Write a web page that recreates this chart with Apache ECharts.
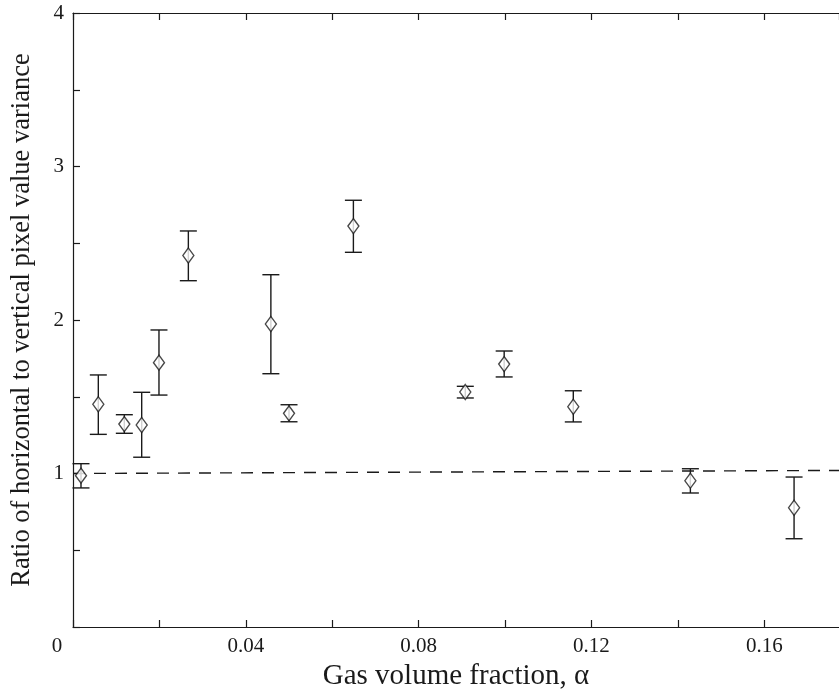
<!DOCTYPE html>
<html>
<head>
<meta charset="utf-8">
<script src="https://cdn.jsdelivr.net/npm/echarts@6/dist/echarts.min.js"></script>
<style>
  html, body { margin: 0; padding: 0; background: #fff; }
  #chart { width: 839px; height: 696px; }
</style>
</head>
<body>
<div id="chart"></div>
<script>
// Gas volume fraction of each measurement
const alpha = [0.00185, 0.00586, 0.01188, 0.0159, 0.0199, 0.0267, 0.0458,
               0.0500, 0.0649, 0.0908, 0.0998, 0.1158, 0.1429, 0.1669];
// Ratio of horizontal to vertical pixel value variance
const ratio = [0.986, 1.451, 1.322, 1.316, 1.722, 2.42, 1.974,
               1.392, 2.612, 1.531, 1.713, 1.435, 0.953, 0.777];
// Error bar limits
const errLow  = [0.906, 1.255, 1.262, 1.106, 1.511, 2.256, 1.650,
                 1.337, 2.441, 1.492, 1.629, 1.336, 0.873, 0.575];
const errHigh = [1.064, 1.642, 1.383, 1.529, 1.935, 2.58, 2.295,
                 1.448, 2.78, 1.568, 1.798, 1.539, 1.031, 0.977];
// Reference level (ratio = 1), dashed
const refX = [0, 0.1773];
const refY = [1.0, 1.02];
// Labelled ticks
const xLabels = [0, 0.04, 0.08, 0.12, 0.16];
const yLabels = [1, 2, 3, 4];

const ink = '#1a1a1a';
const serif = '"Liberation Serif", "DejaVu Serif", serif';

const chart = echarts.init(document.getElementById('chart'), null, { renderer: 'canvas' });

const near = (v, list) => list.some(t => Math.abs(v - t) < 1e-6);

const xAxisBase = {
  type: 'value', min: 0, max: 0.1773, interval: 0.02,
  axisLine: { show: true, onZero: false, lineStyle: { color: ink, width: 1.2 } },
  axisTick: { show: true, inside: true, length: 7, lineStyle: { color: ink, width: 1.2 } },
  splitLine: { show: false }
};

const errorBars = {
  type: 'custom',
  xAxisIndex: 0, yAxisIndex: 0,
  data: alpha.map((a, i) => [a, errLow[i], errHigh[i]]),
  renderItem: function (params, api) {
    const lo = api.coord([api.value(0), api.value(1)]);
    const hi = api.coord([api.value(0), api.value(2)]);
    const half = 8.5;
    const style = { stroke: ink, lineWidth: 1.4, fill: null };
    return {
      type: 'group',
      children: [
        { type: 'line', shape: { x1: lo[0], y1: lo[1], x2: hi[0], y2: hi[1] }, style: style },
        { type: 'line', shape: { x1: lo[0] - half, y1: lo[1], x2: lo[0] + half, y2: lo[1] }, style: style },
        { type: 'line', shape: { x1: hi[0] - half, y1: hi[1], x2: hi[0] + half, y2: hi[1] }, style: style }
      ]
    };
  },
  z: 3
};

chart.setOption({
  animation: false,
  backgroundColor: '#ffffff',
  grid: { left: 73, right: 0, top: 13, bottom: 69, containLabel: false },
  xAxis: [
    Object.assign({}, xAxisBase, {
      position: 'bottom',
      name: 'Gas volume fraction, α',
      nameLocation: 'middle',
      nameGap: 31,
      nameTextStyle: { fontFamily: serif, fontSize: 29, color: ink },
      axisLabel: {
        show: true, margin: 9, fontFamily: serif, fontSize: 21, color: ink,
        showMaxLabel: false,
        formatter: function (v) {
          if (!near(v, xLabels)) return '';
          if (Math.abs(v) < 1e-9) return '{z|0}';
          return String(+v.toFixed(2));
        },
        rich: { z: { fontFamily: serif, fontSize: 21, color: ink, padding: [0, 32, 0, 0] } }
      }
    }),
    Object.assign({}, xAxisBase, {
      position: 'top',
      axisLabel: { show: false }
    })
  ],
  yAxis: [
    {
      type: 'value', min: 0, max: 4, interval: 0.5,
      position: 'left',
      axisLine: { show: true, onZero: false, lineStyle: { color: ink, width: 1.2 } },
      axisTick: { show: true, inside: true, length: 7, lineStyle: { color: ink, width: 1.2 } },
      splitLine: { show: false },
      name: 'Ratio of horizontal to vertical pixel value variance',
      nameLocation: 'middle',
      nameGap: 37,
      nameTextStyle: { fontFamily: serif, fontSize: 26.5, color: ink },
      axisLabel: {
        show: true, margin: 9, fontFamily: serif, fontSize: 21, color: ink,
        formatter: function (v) { return near(v, yLabels) ? String(v) : ''; }
      }
    }
  ],
  series: [
    {
      type: 'line',
      data: refX.map((x, i) => [x, refY[i]]),
      symbol: 'none',
      lineStyle: { color: ink, width: 1.4, type: [12, 9] },
      silent: true,
      z: 1
    },
    errorBars,
    {
      type: 'scatter',
      data: alpha.map((a, i) => [a, ratio[i]]),
      symbol: 'diamond',
      symbolSize: [11, 15],
      itemStyle: { color: '#ffffff', borderColor: ink, borderWidth: 1.4 },
      z: 4
    }
  ]
});
</script>
</body>
</html>
